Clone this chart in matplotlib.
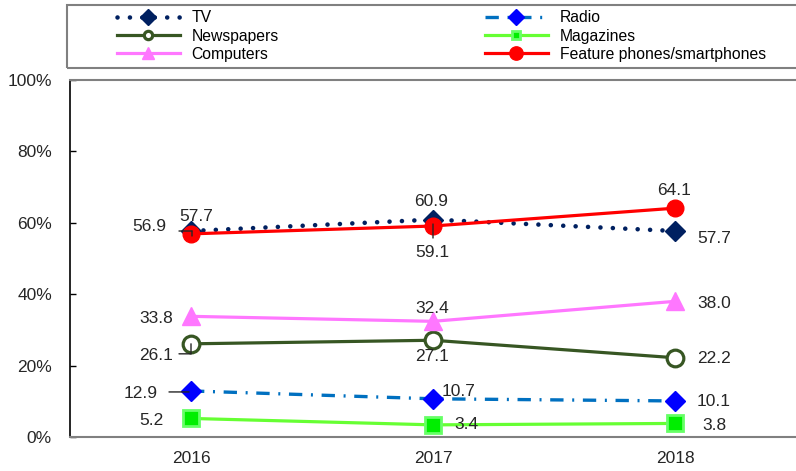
import matplotlib.pyplot as plt
import matplotlib.patches as mpatches
from matplotlib.lines import Line2D
from matplotlib.transforms import offset_copy

plt.rcParams['font.family'] = ['Liberation Sans', 'DejaVu Sans']

years = ["2016", "2017", "2018"]
tv = [57.7, 60.9, 57.7]
radio = [12.9, 10.7, 10.1]
newspapers = [26.1, 27.1, 22.2]
magazines = [5.2, 3.4, 3.8]
computers = [33.8, 32.4, 38.0]
phones = [56.9, 59.1, 64.1]

y_ticks = [0, 20, 40, 60, 80, 100]

fig = plt.figure(figsize=(7.96, 4.71), dpi=100)
ax = fig.add_axes([70 / 796, 34 / 471, 726 / 796, 357 / 471])
x = list(range(len(years)))

# series styles
styles = {
    "TV": dict(color="#002060", ls=(0, (0.01, 2.7)), lw=3.3, dash_capstyle="round",
               marker="D", ms=10, mfc="#002060", mec="#002060"),
    "Radio": dict(color="#0070C0", ls=(0, (4, 2.6, 0.6, 2.6)), lw=2.4,
                  marker="D", ms=10, mfc="#0000FF", mec="#0000FF"),
    "Newspapers": dict(color="#375623", ls="-", lw=2.3,
                       marker="o", ms=12, mfc="white", mec="#375623", mew=2.3),
    "Magazines": dict(color="#66FF33", ls="-", lw=2.3,
                      marker="s", ms=11, mfc="#00EE00", mec="#66FF66", mew=2),
    "Computers": dict(color="#FF77FF", ls="-", lw=2.3,
                      marker="^", ms=13, mfc="#FF77FF", mec="#FF77FF"),
    "Feature phones/smartphones": dict(color="#FF0000", ls="-", lw=2.3,
                                       marker="o", ms=12, mfc="#FF0000", mec="#FF0000"),
}
series = {
    "TV": tv, "Radio": radio, "Newspapers": newspapers,
    "Magazines": magazines, "Computers": computers,
    "Feature phones/smartphones": phones,
}
zorders = {"TV": 3, "Radio": 3, "Newspapers": 4, "Magazines": 4, "Computers": 4,
           "Feature phones/smartphones": 5}

for name, vals in series.items():
    ax.plot(x, vals, zorder=zorders[name], clip_on=False, **styles[name])

# data label offsets (pixels) per series and year
offsets = {
    "TV": [(5, 15), (-2, 18), (39, -7)],
    "Radio": [(-50, -3), (26, 7), (39, -1)],
    "Newspapers": [(-35, -12), (-1, -16), (39, -1)],
    "Magazines": [(-40, -2), (33, 0), (39, -2)],
    "Computers": [(-35, -2), (-1, 13), (39, -2)],
    "Feature phones/smartphones": [(-42, 7), (-1, -26), (-1, 18)],
}
for name, vals in series.items():
    for i, v in enumerate(vals):
        ax.annotate(f"{v:.1f}", (i, v), xytext=offsets[name][i],
                    textcoords="offset pixels", ha="center", va="center",
                    fontsize=12.5, color="#262626", zorder=6)


# small leader lines: segment from (p0) to (p1), both pixel offsets from the point
def leader(i, v, p0, p1):
    tr = offset_copy(ax.transData, fig=fig, x=p0[0], y=p0[1], units="dots")
    ax.annotate("", (i, v), xycoords=tr,
                xytext=(p1[0] - p0[0], p1[1] - p0[1]), textcoords="offset pixels",
                arrowprops=dict(arrowstyle="-", shrinkA=0, shrinkB=0,
                                color="#262626", lw=1), zorder=7)


leader(0, tv[0], (-12, 0), (1, 0))
leader(0, tv[0], (1, 0), (1, -5))
leader(0, newspapers[0], (0, 0), (0, -10))
leader(0, newspapers[0], (0, -10), (-12, -10))
leader(0, radio[0], (-22, -1), (-2, -1))
leader(1, phones[1], (0, 2), (0, -12))

ax.set_xlim(-0.5, 2.5)
ax.set_ylim(0, 100)
ax.set_xticks(x)
ax.set_xticklabels(years)
ax.set_yticks(y_ticks)
ax.set_yticklabels([f"{t}%" for t in y_ticks])
ax.tick_params(axis="y", direction="in", length=4, width=1, pad=13, labelsize=12.5,
               labelcolor="#262626")
ax.tick_params(axis="x", length=0, pad=10, labelsize=12.5, labelcolor="#262626")
ax.spines["right"].set_visible(False)
ax.spines["top"].set_color("#808080")
ax.spines["top"].set_linewidth(1.5)
ax.spines["bottom"].set_color("#808080")
ax.spines["bottom"].set_linewidth(1.5)
ax.spines["left"].set_color("#000000")
ax.spines["left"].set_linewidth(1.2)

# legend box
fig.patches.append(mpatches.Rectangle((67 / 796, 1 - 68 / 471), 740 / 796, 63 / 471,
                                      transform=fig.transFigure, fill=False,
                                      edgecolor="#808080", lw=1.5))


def handle(name):
    st = dict(styles[name])
    st["ms"] = st["ms"] * 0.8
    if name in ("Newspapers", "Magazines"):
        st["ms"] = 6
    if name == "Computers":
        st["ms"] = 9
    return Line2D([], [], **st)


left_names = ["TV", "Newspapers", "Computers"]
right_names = ["Radio", "Magazines", "Feature phones/smartphones"]
for names, x0 in [(left_names, 117), (right_names, 485)]:
    leg = fig.legend([handle(n) for n in names], names, loc="center left",
                     bbox_to_anchor=(x0 / 796, 1 - 36 / 471), frameon=False,
                     fontsize=11.3, handlelength=4.0, handletextpad=0.75,
                     labelspacing=0.22, borderpad=0, borderaxespad=0)

fig.savefig("out.png", dpi=100)
